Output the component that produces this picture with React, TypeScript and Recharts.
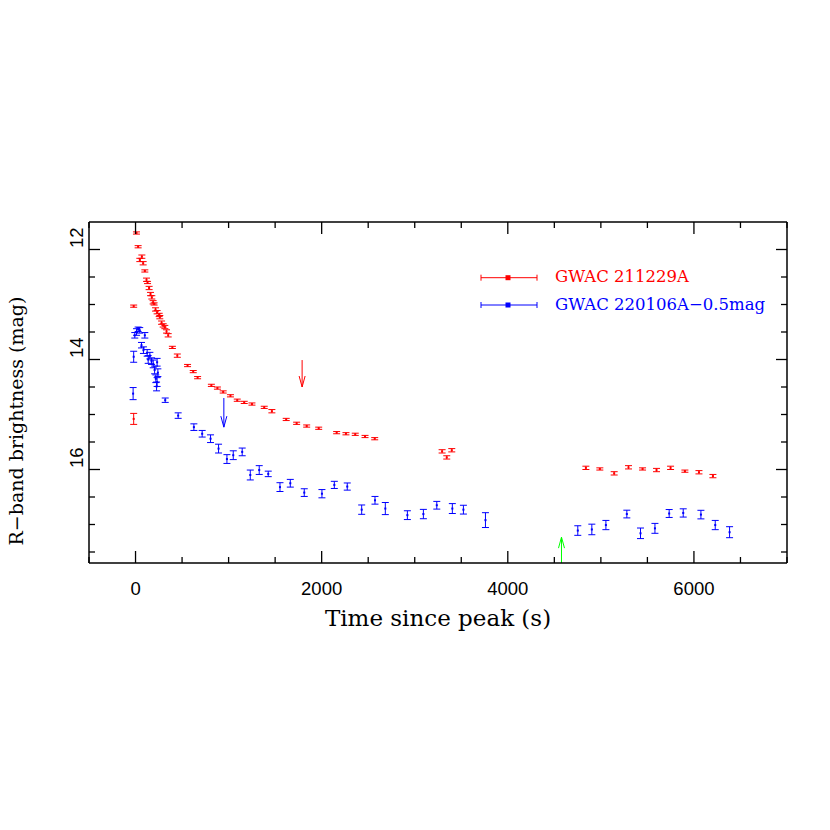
import React from 'react';
import { ScatterChart, Scatter, XAxis, YAxis, ErrorBar, ReferenceLine, Legend, Label } from 'recharts';

// ---- data ----
const redTime = [-20, -20, 10, 28, 46, 68, 82, 100, 118, 129, 146, 161, 175, 189, 200, 215, 232, 254, 261, 280, 297, 315, 333, 351, 396, 449, 559, 620, 667, 815, 880, 942, 1020, 1093, 1168, 1251, 1383, 1465, 1619, 1731, 1839, 1968, 2161, 2261, 2361, 2466, 2570, 3294, 3344, 3398, 4839, 4989, 5143, 5297, 5448, 5598, 5749, 5903, 6054, 6204];
const redMag = [13.03, 15.08, 11.70, 11.95, 12.19, 12.13, 12.25, 12.39, 12.55, 12.60, 12.70, 12.81, 12.87, 12.96, 12.99, 13.09, 13.14, 13.19, 13.23, 13.33, 13.38, 13.41, 13.49, 13.56, 13.78, 13.93, 14.11, 14.22, 14.33, 14.47, 14.52, 14.59, 14.66, 14.74, 14.78, 14.81, 14.87, 14.94, 15.09, 15.16, 15.21, 15.25, 15.33, 15.35, 15.36, 15.40, 15.44, 15.67, 15.78, 15.65, 15.97, 15.99, 16.07, 15.96, 15.99, 16.01, 15.97, 16.03, 16.05, 16.12];
const redErr = [0.02, 0.10, 0.02, 0.02, 0.03, 0.03, 0.03, 0.02, 0.03, 0.02, 0.03, 0.03, 0.03, 0.03, 0.02, 0.03, 0.03, 0.03, 0.03, 0.03, 0.03, 0.03, 0.03, 0.03, 0.02, 0.03, 0.02, 0.02, 0.02, 0.02, 0.02, 0.02, 0.02, 0.02, 0.02, 0.02, 0.02, 0.03, 0.02, 0.02, 0.02, 0.02, 0.02, 0.02, 0.02, 0.02, 0.02, 0.03, 0.03, 0.03, 0.03, 0.02, 0.03, 0.03, 0.02, 0.03, 0.03, 0.02, 0.03, 0.03];

const blueTime = [-8, 11, 28, 45, 100, 64, 85, 125, 154, 136, 172, 190, 232, 205, 240, 218, 232, 226, -20, -26, 319, 458, 627, 716, 806, 892, 982, 1050, 1146, 1233, 1329, 1426, 1552, 1663, 1813, 2003, 2136, 2275, 2430, 2573, 2684, 2921, 3093, 3237, 3404, 3523, 3760, 4752, 4903, 5054, 5279, 5426, 5581, 5734, 5885, 6075, 6229, 6383];
const blueMag = [13.56, 13.50, 13.45, 13.47, 13.56, 13.74, 13.83, 13.88, 13.93, 14.00, 14.03, 14.08, 14.05, 14.19, 14.24, 14.35, 14.41, 14.49, 13.95, 14.62, 14.74, 15.02, 15.23, 15.35, 15.44, 15.62, 15.81, 15.74, 15.68, 16.10, 16.01, 16.08, 16.32, 16.25, 16.42, 16.44, 16.28, 16.31, 16.73, 16.56, 16.71, 16.83, 16.81, 16.65, 16.71, 16.73, 16.92, 17.11, 17.09, 17.01, 16.81, 17.16, 17.07, 16.80, 16.79, 16.82, 17.01, 17.14];
const blueErr = [0.05, 0.06, 0.04, 0.05, 0.05, 0.05, 0.06, 0.06, 0.06, 0.07, 0.06, 0.07, 0.07, 0.07, 0.07, 0.07, 0.08, 0.08, 0.10, 0.11, 0.04, 0.05, 0.06, 0.06, 0.07, 0.08, 0.08, 0.08, 0.07, 0.09, 0.08, 0.05, 0.08, 0.07, 0.07, 0.075, 0.065, 0.065, 0.085, 0.07, 0.11, 0.08, 0.085, 0.07, 0.09, 0.08, 0.135, 0.087, 0.096, 0.084, 0.07, 0.096, 0.09, 0.072, 0.075, 0.078, 0.084, 0.10];

const limitTime = [1790, 949, 4577];
const limitFrom = [14.01, 14.70, 17.7];
const limitTo = [14.50, 15.23, 17.23];
const limitColor = ['#ff0000', '#0000ff', '#00ff00'];

const xTicks = [-500, 0, 500, 1000, 1500, 2000, 2500, 3000, 3500, 4000, 4500, 5000, 5500, 6000, 6500, 7000];
const yTicks = [12, 12.5, 13, 13.5, 14, 14.5, 15, 15.5, 16, 16.5, 17, 17.5];

const seriesNames = ['GWAC 211229A', 'GWAC 220106A\u22120.5mag'];
const seriesColors = ['#ff0000', '#0000ff'];

const redData = redTime.map((t, i) => ({ t, m: redMag[i], e: redErr[i] }));
const blueData = blueTime.map((t, i) => ({ t, m: blueMag[i], e: blueErr[i] }));

// ---- layout (svg placed at page origin) ----
const W = 830;
const H = 822;
const PLOT = { left: 89, right: 787, top: 222, bottom: 563 };

const tickFont = '"Liberation Sans", Arial, sans-serif';
const serif = '"DejaVu Serif", serif';

const BottomTick = (props: any) => {
  const { x, payload } = props;
  const v = payload.value;
  const major = v % 2000 === 0;
  return (
    <g>
      <line x1={x} x2={x} y1={PLOT.bottom} y2={PLOT.bottom - (major ? 12 : 6)} stroke="#000" strokeWidth={1.3} />
      {major && (
        <text x={x} y={595} textAnchor="middle" fontFamily={tickFont} fontSize={18.5} fill="#000">
          {v}
        </text>
      )}
    </g>
  );
};

const TopTick = (props: any) => {
  const { x, payload } = props;
  const v = payload.value;
  const major = v % 2000 === 0;
  return <line x1={x} x2={x} y1={PLOT.top} y2={PLOT.top + (major ? 12 : 6)} stroke="#000" strokeWidth={1.3} />;
};

const LeftTick = (props: any) => {
  const { y, payload } = props;
  const v = payload.value;
  const major = v % 2 === 0;
  const lx = 82.5;
  const ly = y - 1.5;
  return (
    <g>
      <line x1={PLOT.left} x2={PLOT.left + (major ? 11 : 6)} y1={y} y2={y} stroke="#000" strokeWidth={1.3} />
      {major && (
        <text x={lx} y={ly} transform={`rotate(-90 ${lx} ${ly})`} textAnchor="start" fontFamily={tickFont} fontSize={18.5} fill="#000">
          {v}
        </text>
      )}
    </g>
  );
};

const RightTick = (props: any) => {
  const { y, payload } = props;
  const v = payload.value;
  const major = v % 2 === 0;
  return <line x1={PLOT.right} x2={PLOT.right - (major ? 11 : 6)} y1={y} y2={y} stroke="#000" strokeWidth={1.3} />;
};

const dotShape = (color: string) => (p: any) => (
  <rect x={p.cx - 1} y={p.cy - 1} width={2} height={2} fill={color} />
);

const arrowShape = (color: string) => (p: any) => {
  const { x1, y1, x2, y2 } = p;
  const dir = y2 > y1 ? 1 : -1;
  return (
    <g>
      <line x1={x1} y1={y1} x2={x2} y2={y2} stroke={color} strokeWidth={1} />
      <polyline
        points={`${x2 - 3},${y2 - dir * 11} ${x2},${y2} ${x2 + 3},${y2 - dir * 11}`}
        fill="none"
        stroke={color}
        strokeWidth={1}
      />
    </g>
  );
};

const LegendBox = () => {
  const rows = [22.7, 50];
  const textY = [27, 55];
  return (
    <svg width={330} height={70} style={{ display: 'block' }}>
      {seriesNames.map((name, i) => (
        <g key={name}>
          <line x1={11} x2={67} y1={rows[i]} y2={rows[i]} stroke={seriesColors[i]} strokeWidth={1} />
          <line x1={11} x2={11} y1={rows[i] - 3} y2={rows[i] + 3} stroke={seriesColors[i]} strokeWidth={1} />
          <line x1={67} x2={67} y1={rows[i] - 3} y2={rows[i] + 3} stroke={seriesColors[i]} strokeWidth={1} />
          <rect x={35.5} y={rows[i] - 2.5} width={5} height={5} fill={seriesColors[i]} />
          <text x={85} y={textY[i]} fill={seriesColors[i]} fontFamily={serif} fontSize={16.5}>
            {name}
          </text>
        </g>
      ))}
    </svg>
  );
};

export default function App() {
  return (
    <ScatterChart
      width={W}
      height={H}
      style={{ marginLeft: -8, marginTop: -8 }}
      margin={{ top: 221, right: 42, bottom: 199, left: 29 }}
    >
      <XAxis
        xAxisId="b"
        orientation="bottom"
        type="number"
        dataKey="t"
        domain={[-500, 7000]}
        ticks={xTicks}
        interval={0}
        allowDataOverflow
        height={60}
        tickLine={false}
        axisLine={{ stroke: '#000', strokeWidth: 1.5 }}
        tick={<BottomTick />}
      >
        <Label
          content={() => (
            <text x={(PLOT.left + PLOT.right) / 2} y={626} textAnchor="middle" fontFamily={serif} fontSize={23} fill="#000">
              Time since peak (s)
            </text>
          )}
        />
      </XAxis>
      <XAxis
        xAxisId="t"
        orientation="top"
        type="number"
        dataKey="t"
        domain={[-500, 7000]}
        ticks={xTicks}
        interval={0}
        allowDataOverflow
        height={1}
        tickLine={false}
        axisLine={{ stroke: '#000', strokeWidth: 1.5 }}
        tick={<TopTick />}
      />
      <YAxis
        yAxisId="l"
        orientation="left"
        type="number"
        dataKey="m"
        domain={[11.5, 17.7]}
        reversed
        ticks={yTicks}
        interval={0}
        allowDataOverflow
        width={60}
        tickLine={false}
        axisLine={{ stroke: '#000', strokeWidth: 1.5 }}
        tick={<LeftTick />}
      >
        <Label
          content={() => (
            <text x={23} y={421} transform="rotate(-90 23 421)" textAnchor="middle" fontFamily={serif} fontSize={19} fill="#000">
              R{'\u2212'}band brightness (mag)
            </text>
          )}
        />
      </YAxis>
      <YAxis
        yAxisId="r"
        orientation="right"
        type="number"
        dataKey="m"
        domain={[11.5, 17.7]}
        reversed
        ticks={yTicks}
        interval={0}
        allowDataOverflow
        width={1}
        tickLine={false}
        axisLine={{ stroke: '#000', strokeWidth: 1.5 }}
        tick={<RightTick />}
      />
      <Legend
        layout="vertical"
        align="center"
        verticalAlign="middle"
        wrapperStyle={{ position: 'absolute', left: 470, top: 255, width: 330, height: 70 }}
        content={() => <LegendBox />}
      />
      <Scatter
        name={seriesNames[0]}
        data={redData}
        xAxisId="b"
        yAxisId="l"
        dataKey="m"
        fill="#ff0000"
        shape={dotShape('#ff0000')}
        isAnimationActive={false}
      >
        <ErrorBar dataKey="e" direction="y" width={3.5} stroke="#ff0000" strokeWidth={1} isAnimationActive={false} />
      </Scatter>
      <Scatter
        name={seriesNames[1]}
        data={blueData}
        xAxisId="b"
        yAxisId="l"
        dataKey="m"
        fill="#0000ff"
        shape={dotShape('#0000ff')}
        isAnimationActive={false}
      >
        <ErrorBar dataKey="e" direction="y" width={3.5} stroke="#0000ff" strokeWidth={1} isAnimationActive={false} />
      </Scatter>
      <Scatter data={[{ t: -500, m: 11.5 }]} xAxisId="t" yAxisId="r" dataKey="m" shape={() => <g />} legendType="none" isAnimationActive={false} />
      {limitTime.map((t, i) => (
        <ReferenceLine
          key={`lim-${i}`}
          xAxisId="b"
          yAxisId="l"
          segment={[
            { x: t, y: limitFrom[i] },
            { x: t, y: limitTo[i] },
          ]}
          stroke={limitColor[i]}
          shape={arrowShape(limitColor[i])}
        />
      ))}
    </ScatterChart>
  );
}
